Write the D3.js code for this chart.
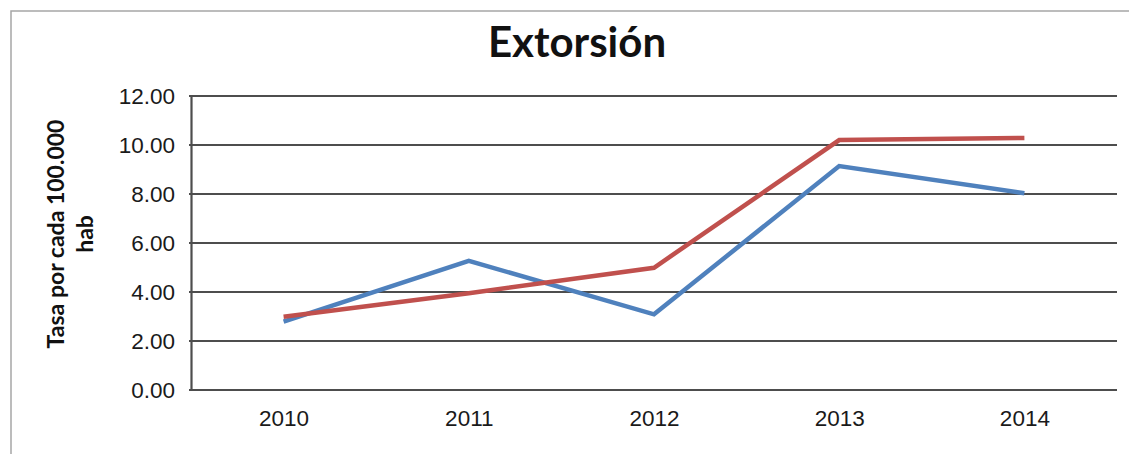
<!DOCTYPE html>
<html lang="es">

<head>
   <meta charset="UTF-8">
   <title>Extorsión</title>
   <script src="https://d3js.org/d3.v7.min.js"></script>
   <style>
      body {
         margin: 0;
         background: #fff;
         font-family: Lato, "Open Sans", sans-serif;
      }

      .tick-label {
         font-size: 22.5px;
         fill: #1a1a1a;
      }

      .grid-line {
         stroke: #4d4d4d;
         stroke-width: 2.2;
      }
   </style>
</head>

<body>
   <div id="chart"></div>

   <script>
      // Data
      const years = ['2010', '2011', '2012', '2013', '2014'];
      const serieAzul = [2.79, 5.27, 3.09, 9.14, 8.03];
      const serieRoja = [2.99, 3.95, 4.99, 10.2, 10.29];
      const yTicks = [0, 2, 4, 6, 8, 10, 12];

      const width = 1129;
      const height = 454;
      const margin = { top: 96, right: 12, bottom: 64, left: 191 };

      const svg = d3.select('#chart')
         .append('svg')
         .attr('width', width)
         .attr('height', height);

      // Outer chart frame (runs off the right and bottom of the picture)
      svg.append('rect')
         .attr('x', 11)
         .attr('y', 11)
         .attr('width', width + 20)
         .attr('height', height + 20)
         .attr('fill', 'none')
         .attr('stroke', '#a6a6a6')
         .attr('stroke-width', 1.5);

      // Scales
      const xScale = d3.scalePoint()
         .domain(years)
         .range([margin.left, width - margin.right])
         .padding(0.5);

      const yScale = d3.scaleLinear()
         .domain([0, 12])
         .range([height - margin.bottom, margin.top]);

      // Horizontal grid lines
      svg.selectAll('.grid-line')
         .data(yTicks)
         .enter()
         .append('line')
         .attr('class', 'grid-line')
         .attr('x1', margin.left - 2)
         .attr('x2', width - margin.right)
         .attr('y1', d => yScale(d))
         .attr('y2', d => yScale(d));

      // Y axis
      const yAxis = svg.append('g')
         .attr('transform', `translate(${margin.left}, 0)`)
         .call(d3.axisLeft(yScale).tickValues(yTicks).tickFormat(d3.format('.2f')).tickSize(0).tickPadding(16));
      yAxis.select('.domain').attr('stroke', '#4d4d4d').attr('stroke-width', 2.2);
      yAxis.selectAll('text').attr('class', 'tick-label').attr('font-family', null).attr('font-size', null);

      // X axis (labels only)
      const xAxis = svg.append('g')
         .attr('transform', `translate(0, ${height - margin.bottom})`)
         .call(d3.axisBottom(xScale).tickSize(0).tickPadding(20));
      xAxis.select('.domain').remove();
      xAxis.selectAll('text').attr('class', 'tick-label').attr('font-family', null).attr('font-size', null);

      // Lines
      const line = d3.line()
         .x((d, i) => xScale(years[i]))
         .y(d => yScale(d));

      svg.append('path')
         .datum(serieAzul)
         .attr('fill', 'none')
         .attr('stroke', '#4F81BD')
         .attr('stroke-width', 4.5)
         .attr('d', line);

      svg.append('path')
         .datum(serieRoja)
         .attr('fill', 'none')
         .attr('stroke', '#C0504D')
         .attr('stroke-width', 4.5)
         .attr('d', line);

      // Title
      svg.append('text')
         .attr('x', 577)
         .attr('y', 57)
         .attr('text-anchor', 'middle')
         .attr('font-size', 42)
         .attr('font-weight', 'bold')
         .attr('fill', '#111')
         .text('Extorsión');

      // Y axis title, two lines
      const yTitle = svg.append('text')
         .attr('transform', `translate(64, 234) rotate(-90)`)
         .attr('text-anchor', 'middle')
         .attr('font-size', 23)
         .attr('font-weight', 'bold')
         .attr('fill', '#111');
      yTitle.append('tspan').attr('x', 0).attr('y', 0).text('Tasa por cada 100.000');
      yTitle.append('tspan').attr('x', 0).attr('y', 29).text('hab');
   </script>
</body>

</html>
